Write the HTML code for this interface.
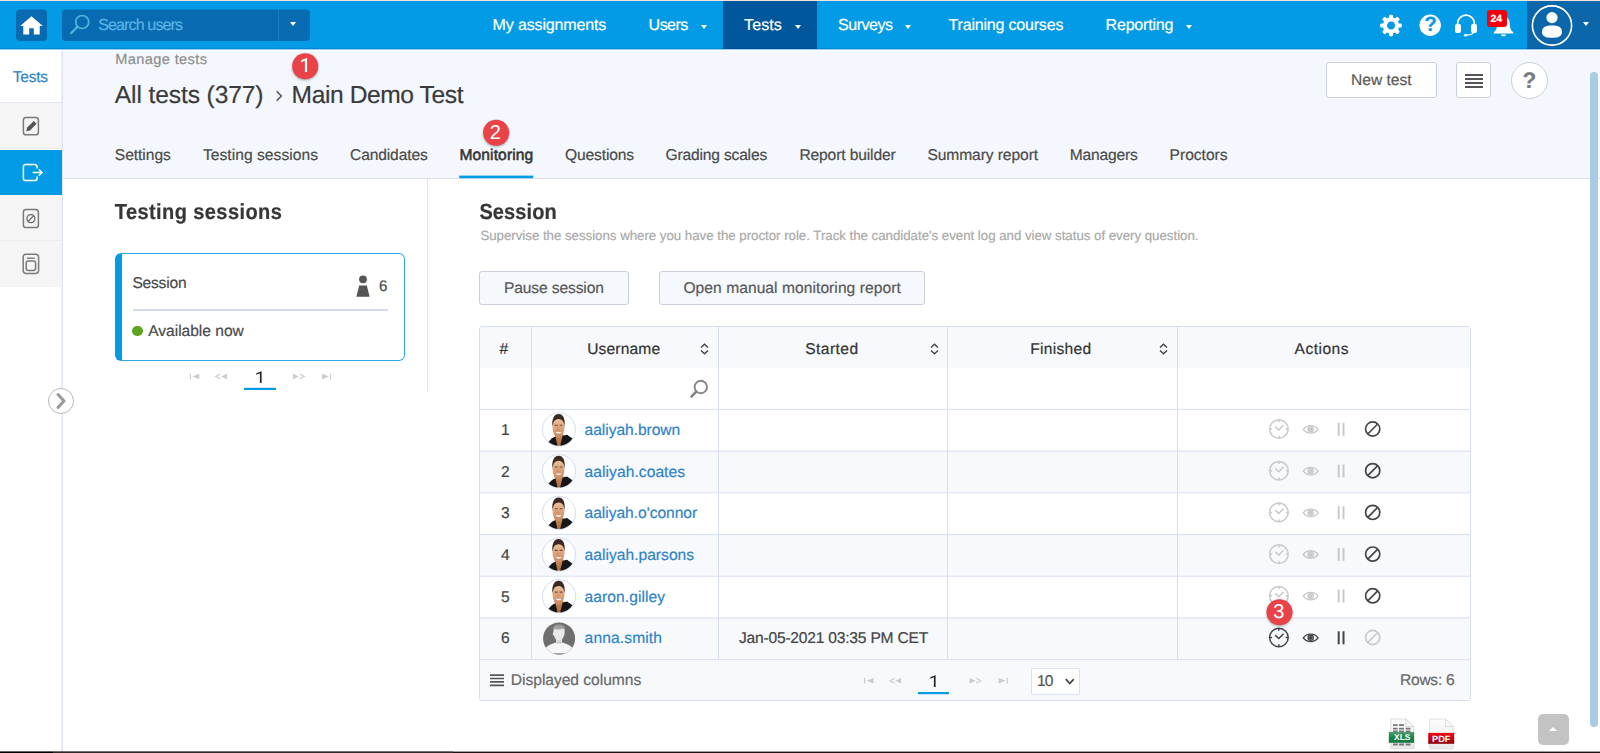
<!DOCTYPE html>
<html lang="en">
<head>
<meta charset="utf-8">
<title>Monitoring - Main Demo Test</title>
<style>
*{box-sizing:border-box;margin:0;padding:0}
html,body{width:1600px;height:753px;overflow:hidden;background:#fff}
body{font-family:"Liberation Sans",sans-serif;color:#444;position:relative;text-rendering:geometricPrecision}
.abs{position:absolute}
.t{position:absolute;white-space:nowrap;line-height:1;-webkit-text-stroke:.2px}
.med .t{-webkit-text-stroke:.55px}
svg{display:block;overflow:visible}

/* ---------- top navigation ---------- */
#nav{position:absolute;left:0;top:0;width:1600px;height:49px;background:#039be5}
#nav .t{color:#fff}
#home,#search{position:absolute;top:10px;height:31px;background:#086bb1;border-radius:4px;box-shadow:0 -1px 0 rgba(8,107,177,.5)}
#topline{position:absolute;z-index:5;left:0;top:0;width:1600px;height:1px;background:#f3e3dd}
#navedge{position:absolute;left:0;top:48px;width:1600px;height:3px;background:linear-gradient(rgba(0,25,120,.16) 0,rgba(0,25,120,.16) 1px,#8fd0f3 1px,#8fd0f3 2px,#fff 2px,#fff 3px)}
#home{left:16px;width:31px}
#search{left:62px;width:248px}
#search .sep{position:absolute;left:216px;top:0;width:1px;height:31px;background:#1a7cc0}
#nav .active{position:absolute;left:723px;top:0;width:94px;height:49px;background:#01579b}
#nav .user{position:absolute;left:1527px;top:0;width:73px;height:49px;background:#0b66aa}
.caret{position:absolute;width:0;height:0;border-left:3.8px solid transparent;border-right:3.8px solid transparent;border-top:4.2px solid #fff}
#badge24{position:absolute;left:1487px;top:10px;width:20px;height:17px;border-radius:3px;background:#f2000c}

/* ---------- sidebar ---------- */
#side{position:absolute;left:0;top:49px;width:63px;height:704px;background:#fff;border-right:1px solid #dfe5f6;box-shadow:inset -1px 0 0 #eceffa}
#side .item{position:absolute;left:0;width:61px;height:46px;background:#f5f5f5;border-bottom:1px solid #ececec}
#side .item.on{background:#039be5;border-bottom:none;width:62px}

/* ---------- page header ---------- */
#head{position:absolute;left:63px;top:49px;width:1537px;height:130px;background:#f4f8fe;border-bottom:1px solid #dfe1e6}
.tab{color:#4a4a4a}
.btn{position:absolute;background:#fff;border:1px solid #c9cfe0;border-radius:3px}
.mark{position:absolute;width:25.8px;height:25.8px;border-radius:50%;background:#e94348;box-shadow:0 1px 2.5px rgba(40,70,70,.45);color:#fff;text-align:center;font-size:20px;line-height:26px;padding-right:1.3px}

/* ---------- left panel ---------- */
#card{position:absolute;left:115px;top:253px;width:290px;height:108px;border:1px solid #2fa6ea;border-left:7px solid #039be5;border-radius:6px;background:#fff}

/* ---------- table ---------- */
#tbl{position:absolute;left:479px;top:326px;width:992px;height:375px;border:1px solid #d7ddf2;border-radius:3px;background:#fff;overflow:hidden}
#tbl .row{position:absolute;left:0;width:990px;border-top:1px solid #d7ddf2;background:#fff}
#tbl .shade{background:#f7f9fd}
#tbl .v{position:absolute;top:0;width:1px;height:333px;background:#d7ddf2}
.lnk{color:#2f83c9}
.num{color:#444}
</style>
</head>
<body>
<svg width="0" height="0" style="position:absolute">
  <defs>
    <g id="pgL" fill="#cbcbcb"><path d="M0 0h1.2v5.4H0z M9.5 0v5.4L2.7 2.7z M37.2 0v5.4L31.2 2.7z"/><path d="M30.6 .2 L26 2.7 L30.6 5.2" fill="none" stroke="#cbcbcb" stroke-width="1.1"/></g>
    <g id="pgR" fill="#cbcbcb"><path d="M0 0v5.4L6 2.7z M29 0v5.4L36 2.7z M37 0h1.2v5.4H37z"/><path d="M6.6 .2 L11.2 2.7 L6.6 5.2" fill="none" stroke="#cbcbcb" stroke-width="1.1"/></g>
    <g id="icSort"><path d="M1 4.6 L4.5 1.2 L8 4.6 M1 7.4 L4.5 10.8 L8 7.4" fill="none" stroke="#444" stroke-width="1.4"/></g>
    <g id="icClock" fill="none" stroke="currentColor" stroke-width="1.5"><circle cx="11" cy="11" r="9.3"/><path d="M11 1.8v2.4M11 17.8v2.4M1.8 11h2.4M17.8 11h2.4M7.3 8.6l3.6 3.4 4.7-4.8"/></g>
    <g id="icEye" fill="none" stroke="currentColor" stroke-width="1.35"><path d="M35.4 11.4 C39 6.4 46.6 6.4 50.2 11.4 C46.6 16.4 39 16.4 35.4 11.4 Z"/><circle cx="42.8" cy="11.3" r="2.6"/><circle cx="42.8" cy="11.3" r="1.2" fill="currentColor"/></g>
    <g id="icPause" fill="currentColor"><rect x="69.8" y="4.8" width="2" height="13"/><rect x="74.6" y="4.8" width="2" height="13"/></g>
    <g id="icBan" fill="none" stroke="currentColor" stroke-width="1.7"><circle cx="104.8" cy="11" r="7.1"/><path d="M99.8 16 L109.8 6"/></g>
    <g id="avM">
      <clipPath id="avc"><circle cx="17" cy="17" r="16.2"/></clipPath>
      <linearGradient id="skin" x1="0" y1="0" x2="0" y2="1"><stop offset="0" stop-color="#efc9a6"/><stop offset=".55" stop-color="#dca27a"/><stop offset="1" stop-color="#c98a5e"/></linearGradient>
      <linearGradient id="neck" x1="0" y1="0" x2="0" y2="1"><stop offset="0" stop-color="#c48a60"/><stop offset="1" stop-color="#b0692f"/></linearGradient>
      <filter id="soft" x="-10%" y="-10%" width="120%" height="120%"><feGaussianBlur stdDeviation=".45"/></filter>
      <circle cx="17" cy="17" r="16.6" fill="#fff" stroke="#d6ddf3" stroke-width="1"/>
      <g clip-path="url(#avc)"><g filter="url(#soft)">
        <path d="M12.6 22 L21.8 22 L18.6 35 L14.8 35 Z" fill="url(#neck)"/>
        <path d="M4.4 31.6 L10 25.8 L13.4 24 L15.9 35 L3 35 Z" fill="#131313"/>
        <path d="M20.6 23.2 L25 22.2 L31.6 26.8 L32 35 L17.7 35 Z" fill="#131313"/>
        <ellipse cx="16.5" cy="14.6" rx="6" ry="10.8" fill="url(#skin)"/>
        <path d="M10.4 14.4 C9.6 6 12.4 1.5 16.6 1.5 C21.2 1.5 23.4 6.2 22.6 14.4 C22.2 10.2 21 6.8 16.6 6.6 C12.4 6.6 11 10.2 10.4 14.4 Z" fill="#3b2a22"/>
        <path d="M12.8 12.8 h2.8 M17.6 12.8 h2.8" stroke="#6b4632" stroke-width="1.1"/>
        <path d="M16 14.4 L15.6 17.6 H17.6" fill="none" stroke="#c58a62" stroke-width=".8"/>
        <path d="M13.6 19.4 C15.2 21.6 18.2 21.6 19.6 19.4 Z" fill="#fbf3ee"/>
      </g></g>
    </g>
    <g id="avG">
      <clipPath id="avg"><circle cx="17.1" cy="17" r="16"/></clipPath>
      <linearGradient id="hair" x1="0" y1="0" x2="0" y2="1"><stop offset="0" stop-color="#8e8e8e"/><stop offset="1" stop-color="#c6c6c6"/></linearGradient>
      <circle cx="17.1" cy="17" r="16" fill="#6f6f6f"/>
      <g clip-path="url(#avg)"><g filter="url(#soft)">
        <ellipse cx="17" cy="7.2" rx="5.8" ry="4.4" fill="url(#hair)"/>
        <path d="M11.6 8.6 C13.2 6.8 14.6 8.6 16 8.4 C18.6 8 20.4 7 22.6 8.4 C23 11.6 22.4 15 20.2 17.8 C19.6 19 19.8 20.4 20.6 21.4 H13.6 C14.4 20.4 14.4 19 13.8 17.8 C12.2 15.4 11.8 13.6 10.6 12.6 C11.4 11.4 11.4 10 11.6 8.6 Z" fill="#e9e9e9"/>
        <path d="M15.4 19 H18.8 V22.4 H15.4 Z" fill="#cfcfcf"/>
        <path d="M2.6 31 C3.2 25.6 6 23.6 13.4 21.4 C15.6 22.4 18.6 22.4 20.8 21.4 C28.2 23.6 31 25.6 31.6 31 V32.2 H2.6 Z" fill="#f6f6f6"/>
        <path d="M2 32.2 H32 V35 H2 Z" fill="#8a8a8a"/>
      </g></g>
    </g>
  </defs>
</svg>

<!-- ================= NAV ================= -->
<div id="nav">
  <div id="home">
    <svg class="abs" style="left:4px;top:6px" width="23" height="19" viewBox="0 0 23 19"><path d="M11.5 0.3 L0.2 10 H3.3 V18.6 H9.2 V12.2 H13.8 V18.6 H19.7 V10 H22.8 Z" fill="#fff"/></svg>
  </div>
  <div id="search">
    <svg class="abs" style="left:8px;top:5px" width="20" height="20" viewBox="0 0.6 20 20"><circle cx="12.2" cy="7.6" r="6.5" fill="none" stroke="#4fb4dc" stroke-width="1.7"/><path d="M7.6 12.2 L1 18.8" stroke="#4fb4dc" stroke-width="2.2" stroke-linecap="round"/></svg>
    <div class="t" style="left:36.2px;top:8px;color:#5cb3e6;font-size:16px;letter-spacing:-0.855px;">Search users</div>
    <div class="sep"></div>
    <div class="caret" style="left:228px;top:12.4px"></div>
  </div>
  <div class="active"></div>
  <div id="topline"></div>
  <div class="t" style="left:492.6px;top:18px;color:#fff;font-size:16px;letter-spacing:-0.142px;">My assignments</div>
  <div class="t" style="left:648.6px;top:18px;color:#fff;font-size:16px;letter-spacing:-0.516px;">Users</div>
  <div class="caret" style="left:700.8px;top:24.8px"></div>
  <div class="t" style="left:744px;top:18px;color:#fff;font-size:16px;letter-spacing:0.131px;">Tests</div>
  <div class="caret" style="left:794.6px;top:24.8px"></div>
  <div class="t" style="left:838px;top:18px;color:#fff;font-size:16px;letter-spacing:-0.471px;">Surveys</div>
  <div class="caret" style="left:905.2px;top:24.8px"></div>
  <div class="t" style="left:948.6px;top:18px;color:#fff;font-size:16px;letter-spacing:-0.193px;">Training courses</div>
  <div class="t" style="left:1105.6px;top:18px;color:#fff;font-size:16px;letter-spacing:-0.197px;">Reporting</div>
  <div class="caret" style="left:1186px;top:24.8px"></div>
  <!-- gear -->
  <svg class="abs" style="left:1380px;top:14px" width="22" height="22" viewBox="0 -0.5 22 22">
    <g fill="#fff" transform="translate(11 11)">
      <g id="tooth"><rect x="-2" y="-10.8" width="4" height="5" rx="1.2"/></g>
      <use href="#tooth" transform="rotate(45)"/><use href="#tooth" transform="rotate(90)"/><use href="#tooth" transform="rotate(135)"/>
      <use href="#tooth" transform="rotate(180)"/><use href="#tooth" transform="rotate(225)"/><use href="#tooth" transform="rotate(270)"/><use href="#tooth" transform="rotate(315)"/>
    </g>
    <circle cx="11" cy="11" r="6.1" fill="none" stroke="#fff" stroke-width="4.2"/>
  </svg>
  <!-- help -->
  <svg class="abs" style="left:1419px;top:14px" width="23" height="23"><circle cx="11.2" cy="11.3" r="10.7" fill="#fff"/></svg>
  <div class="t" style="left:1424.2px;top:15px;color:#039be5;font-size:20.5px;font-weight:700">?</div>
  <!-- headset -->
  <svg class="abs" style="left:1454px;top:13px" width="24" height="24" viewBox="0 0 24 24">
    <path d="M3.6 13 V10.6 A8.4 8.4 0 0 1 20.4 10.6 V13" fill="none" stroke="#fff" stroke-width="1.7"/>
    <rect x="1" y="10.8" width="6" height="9.2" rx="2.6" fill="#fff"/>
    <rect x="17" y="10.8" width="6" height="9.2" rx="2.6" fill="#fff"/>
    <path d="M19.8 18.5 C19.4 21 16 22 12.6 22.2" fill="none" stroke="#fff" stroke-width="1.3"/>
    <ellipse cx="11.6" cy="22.2" rx="1.8" ry="1.2" fill="#fff"/>
  </svg>
  <!-- bell -->
  <svg class="abs" style="left:1493px;top:15px" width="21" height="23" viewBox="0 0 21 23">
    <path d="M10.5 1.4 C5.6 1.4 4.2 5.4 4.2 9.4 C4.2 13.6 2.6 15.8 0.8 17.2 V18.4 H20.2 V17.2 C18.4 15.8 16.8 13.6 16.8 9.4 C16.8 5.4 15.4 1.4 10.5 1.4 Z" fill="#fff"/>
    <path d="M7.8 19.4 A2.8 2.6 0 0 0 13.2 19.4 Z" fill="#fff"/>
  </svg>
  <div id="badge24"></div>
  <div class="t" style="left:1490.5px;top:13.5px;font-size:10.5px;font-weight:700">24</div>
  <!-- user -->
  <div class="user">
    <svg class="abs" style="left:4px;top:5px" width="42" height="42" viewBox="0 0 42 42">
      <circle cx="21" cy="20.5" r="19.6" fill="none" stroke="#fff" stroke-width="1.6"/>
      <circle cx="21" cy="12.6" r="5.6" fill="#fff"/>
      <path d="M11 27 C11 22 15 20.6 21 20.6 C27 20.6 31 22 31 27 C31 31.5 27 32.8 21 32.8 C15 32.8 11 31.5 11 27 Z" fill="#fff"/>
    </svg>
    <div class="caret" style="left:56px;top:22px"></div>
  </div>
</div>

<!-- ================= SIDEBAR ================= -->
<div id="side">
  <div class="t" style="left:12.8px;top:21px;color:#2f83c9;font-size:15.5px;letter-spacing:-0.237px;">Tests</div>
  <div class="abs" style="left:0;top:53px;width:62px;height:1px;background:#dfe5f6"></div>
  <div class="item" style="top:54px">
    <svg class="abs" style="left:22px;top:13px" width="18" height="20" viewBox="0 0 18 20"><rect x="1.4" y="1.4" width="15" height="17.4" rx="2.6" fill="none" stroke="#7a7a7a" stroke-width="1.5"/><path d="M4.2 15.2 L5.2 11.6 L11.8 5 L14.6 7.8 L8 14.4 Z" fill="#555"/></svg>
  </div>
  <div class="item on" style="top:101px;height:45px">
    <svg class="abs" style="left:22px;top:13px" width="22" height="20" viewBox="0 0 22 20"><path d="M15 5.6 V3.6 A2.2 2.2 0 0 0 12.8 1.4 H3.6 A2.2 2.2 0 0 0 1.4 3.6 V15.4 A2.2 2.2 0 0 0 3.6 17.6 H12.8 A2.2 2.2 0 0 0 15 15.4 V13.6" fill="none" stroke="#fff" stroke-width="1.5"/><path d="M10.6 9.5 H20 M16.8 6.3 L20 9.5 L16.8 12.7" fill="none" stroke="#fff" stroke-width="1.5"/></svg>
  </div>
  <div class="item" style="top:146px">
    <svg class="abs" style="left:22px;top:13px" width="18" height="21" viewBox="0 0 18 21"><rect x="1.4" y="1.4" width="15" height="18.2" rx="2.6" fill="none" stroke="#7a7a7a" stroke-width="1.5"/><circle cx="8.9" cy="10.6" r="4" fill="none" stroke="#666" stroke-width="1.3"/><path d="M6.2 13.3 L11.6 7.9" stroke="#666" stroke-width="1.3"/></svg>
  </div>
  <div class="item" style="top:192px;border-bottom:none">
    <svg class="abs" style="left:22px;top:12px" width="18" height="22" viewBox="0 0 18 22"><rect x="1.2" y="1.2" width="15.4" height="19.2" rx="2.8" fill="none" stroke="#7a7a7a" stroke-width="1.5"/><path d="M5 5.2 H12.8" stroke="#7a7a7a" stroke-width="1.4"/><rect x="4.2" y="8" width="9.4" height="9.4" rx="2.2" fill="none" stroke="#7a7a7a" stroke-width="1.5"/></svg>
  </div>
</div>

<!-- ================= HEADER ================= -->
<div id="head"></div>
<div class="t" style="left:115.2px;top:53px;color:#8e8e8e;font-size:14.6px;letter-spacing:0.381px;">Manage tests</div>
<div class="t" style="left:114.8px;top:84px;color:#3b3b3b;font-size:24.6px;letter-spacing:-0.117px;">All tests (377)</div>
<svg class="abs" style="left:275px;top:90px" width="8" height="12" viewBox="0 0 8 12"><path d="M1.6 1.2 L6.4 6 L1.6 10.8" fill="none" stroke="#555" stroke-width="1.5"/></svg>
<div class="t" style="left:291.6px;top:84px;color:#3b3b3b;font-size:24.6px;letter-spacing:-0.411px;">Main Demo Test</div>

<div class="t" style="left:114.8px;top:148px;color:#4a4a4a;font-size:15.6px;letter-spacing:-0.045px;">Settings</div>
<div class="t" style="left:203px;top:148px;color:#4a4a4a;font-size:15.6px;letter-spacing:0.036px;">Testing sessions</div>
<div class="t" style="left:350px;top:148px;color:#4a4a4a;font-size:15.6px;letter-spacing:-0.129px;">Candidates</div>
<div class="med"><div class="t" style="left:459.4px;top:148px;color:#333;font-size:15.6px;letter-spacing:0.119px;">Monitoring</div></div>
<svg class="abs" style="left:459px;top:175px" width="75" height="4"><rect x=".2" y=".6" width="74" height="2.6" fill="#039be5"/></svg>
<div class="t" style="left:565px;top:148px;color:#4a4a4a;font-size:15.6px;letter-spacing:-0.135px;">Questions</div>
<div class="t" style="left:665.6px;top:148px;color:#4a4a4a;font-size:15.6px;letter-spacing:-0.187px;">Grading scales</div>
<div class="t" style="left:799.4px;top:148px;color:#4a4a4a;font-size:15.6px;letter-spacing:-0.125px;">Report builder</div>
<div class="t" style="left:927.4px;top:148px;color:#4a4a4a;font-size:15.6px;letter-spacing:-0.085px;">Summary report</div>
<div class="t" style="left:1069.8px;top:148px;color:#4a4a4a;font-size:15.6px;letter-spacing:-0.193px;">Managers</div>
<div class="t" style="left:1169.6px;top:148px;color:#4a4a4a;font-size:15.6px;letter-spacing:-0.008px;">Proctors</div>

<div class="btn" style="left:1326px;top:62px;width:111px;height:36px"></div>
<div class="t" style="left:1351px;top:73px;color:#585858;font-size:15.6px;letter-spacing:-0.009px;">New test</div>
<div class="btn" style="left:1456px;top:62px;width:35px;height:36px">
  <svg class="abs" style="left:8px;top:11px" width="18" height="14" viewBox="0 0 18 14"><path d="M0 1h18M0 5h18M0 9h18M0 13h18" stroke="#555" stroke-width="2"/></svg>
</div>
<div class="btn" style="left:1511px;top:62px;width:37px;height:37px;border-radius:50%"></div>
<div class="t" style="left:1522.6px;top:70px;color:#7a7a7a;font-size:22.5px;font-weight:700">?</div>

<div class="mark" style="left:292px;top:53px;transform:translate(.2px,.3px)"><svg class="abs" style="left:0;top:0" width="26" height="26" viewBox="0 0 26 26"><path d="M14.9 4.7V18.8H12.7V7.5L8.9 9V7L14.5 4.7Z" fill="#fff"/></svg></div>
<div class="mark" style="left:483px;top:119px;transform:translate(.1px,.7px)">2</div>

<div id="navedge"></div>

<!-- ================= LEFT PANEL ================= -->
<div class="t" style="left:114.8px;top:203px;color:#363636;font-size:20px;font-weight:700;letter-spacing:0.413px;transform:scaleY(1.09);transform-origin:0 16px">Testing sessions</div>
<div id="card">
  <div class="t" style="left:10.4px;top:22px;color:#4a4a4a;font-size:15.6px;letter-spacing:-0.212px;">Session</div>
  <svg class="abs" style="left:233.6px;top:21px" width="14" height="22" viewBox="0 0 14 22"><circle cx="7" cy="4.3" r="3.9" fill="#555"/><path d="M3.2 10.4 H10.8 L13.6 21.8 H0.4 Z" fill="#555"/></svg>
  <div class="t" style="left:257px;top:25px;color:#4a4a4a;font-size:15.2px;letter-spacing:-0.253px;">6</div>
  <div class="abs" style="left:10.5px;top:55px;width:255px;height:2px;background:#d3daf1"></div>
  <div class="abs" style="left:10.2px;top:71.6px;width:10.6px;height:10.6px;border-radius:50%;background:#5ba51f"></div>
  <div class="t" style="left:26.2px;top:70px;color:#4a4a4a;font-size:15.6px;letter-spacing:-0.027px;">Available now</div>
</div>
<svg class="abs" style="left:189px;top:373px" width="40" height="8" viewBox="-0.8 -0.8 40 8"><use href="#pgL"/></svg>
<svg class="abs" style="left:293px;top:373px" width="40" height="8" viewBox="0 -0.8 40 8"><use href="#pgR"/></svg>
<svg class="abs" style="left:254px;top:371px" width="10" height="13" viewBox="0 0 10 13"><path d="M7.6 .2V12H5.9V2.3L2.3 3.7V2.2L7.3 .2Z" fill="#222"/></svg>
<svg class="abs" style="left:244px;top:387px" width="32" height="4"><rect x="0" y=".8" width="32" height="2.2" fill="#039be5"/></svg>
<div class="abs" style="left:427px;top:179px;width:1px;height:213px;background:#e2e2e2"></div>

<!-- sidebar collapse handle -->
<div class="abs" style="left:48px;top:388px;width:26px;height:26px;border-radius:50%;background:#fff;border:1.5px solid #b9b9b9">
  <svg class="abs" style="left:6px;top:3px" width="12" height="18" viewBox="0 0 12 18"><path d="M3 2.5 L9 9 L3 15.5" fill="none" stroke="#9a9a9a" stroke-width="3" stroke-linecap="round" stroke-linejoin="round"/></svg>
</div>

<!-- ================= SESSION ================= -->
<div class="t" style="left:479.4px;top:203px;color:#363636;font-size:20px;font-weight:700;letter-spacing:0.100px;transform:scaleY(1.09);transform-origin:0 16px">Session</div>
<div class="t" style="left:480.4px;top:229px;color:#aaaaaa;font-size:13.3px;letter-spacing:-0.030px;">Supervise the sessions where you have the proctor role. Track the candidate's event log and view status of every question.</div>
<div class="btn" style="left:479px;top:271px;width:150px;height:34px;background:#f5f8fd"></div>
<div class="t" style="left:504px;top:281px;color:#585858;font-size:15.6px;letter-spacing:-0.125px;">Pause session</div>
<div class="btn" style="left:659px;top:271px;width:266px;height:34px;background:#f5f8fd"></div>
<div class="t" style="left:683.4px;top:281px;color:#585858;font-size:15.6px;letter-spacing:0.054px;">Open manual monitoring report</div>

<div id="tbl">
  <div class="abs shade" style="left:0;top:0;width:990px;height:41px"></div>
  <div class="t" style="left:19.6px;top:15px;color:#333;font-size:15.6px;letter-spacing:-0.088px;">#</div>
  <div class="t" style="left:107.2px;top:15px;color:#333;font-size:15.6px;letter-spacing:0.133px;">Username</div>
  <div class="t" style="left:325.2px;top:15px;color:#333;font-size:15.6px;letter-spacing:0.446px;">Started</div>
  <div class="t" style="left:550.2px;top:15px;color:#333;font-size:15.6px;letter-spacing:0.281px;">Finished</div>
  <div class="t" style="left:814.6px;top:15px;color:#333;font-size:15.6px;letter-spacing:0.466px;">Actions</div>
  <svg class="abs" style="left:220px;top:16px" width="9" height="12" viewBox="0 0 9 12"><use href="#icSort"/></svg>
  <svg class="abs" style="left:450px;top:16px" width="9" height="12" viewBox="0 0 9 12"><use href="#icSort"/></svg>
  <svg class="abs" style="left:679px;top:16px" width="9" height="12" viewBox="0 0 9 12"><use href="#icSort"/></svg>
  <svg class="abs" style="left:210px;top:53px" width="19" height="19" viewBox="0 0 19 19"><circle cx="10.8" cy="7" r="6.2" fill="none" stroke="#858585" stroke-width="1.9"/><path d="M5.9 12 L1.4 16.6" stroke="#858585" stroke-width="2.6" stroke-linecap="round"/></svg>
  <div class="row" style="top:81px;height:43px;transform:translateY(0.90px)">
    <div class="t" style="left:21px;top:13px;color:#444;font-size:15.6px;letter-spacing:-0.088px;">1</div>
    <svg class="abs" style="left:62px;top:3px" width="34" height="34" viewBox="0 0.4 34 34"><use href="#avM"/></svg>
    <div class="t" style="left:104.6px;top:13px;color:#2f83c9;font-size:15.6px;letter-spacing:-0.049px;">aaliyah.brown</div>
    <svg class="abs" style="left:788px;top:8px" width="114" height="22" viewBox="0.1 -0.1 114 22"><g color="#c9c9c9"><use href="#icClock"/><use href="#icEye"/><use href="#icPause"/></g><g color="#454545"><use href="#icBan"/></g></svg>
  </div>
  <div class="row shade" style="top:123px;height:43px;transform:translateY(0.60px)">
    <div class="t" style="left:21px;top:13px;color:#444;font-size:15.6px;letter-spacing:-0.088px;">2</div>
    <svg class="abs" style="left:62px;top:3px" width="34" height="34" viewBox="0 0.4 34 34"><use href="#avM"/></svg>
    <div class="t" style="left:104.6px;top:13px;color:#2f83c9;font-size:15.6px;letter-spacing:0.057px;">aaliyah.coates</div>
    <svg class="abs" style="left:788px;top:8px" width="114" height="22" viewBox="0.1 -0.1 114 22"><g color="#c9c9c9"><use href="#icClock"/><use href="#icEye"/><use href="#icPause"/></g><g color="#454545"><use href="#icBan"/></g></svg>
  </div>
  <div class="row" style="top:165px;height:43px;transform:translateY(0.30px)">
    <div class="t" style="left:21px;top:13px;color:#444;font-size:15.6px;letter-spacing:-0.088px;">3</div>
    <svg class="abs" style="left:62px;top:3px" width="34" height="34" viewBox="0 0.4 34 34"><use href="#avM"/></svg>
    <div class="t" style="left:104.6px;top:13px;color:#2f83c9;font-size:15.6px;letter-spacing:-0.036px;">aaliyah.o'connor</div>
    <svg class="abs" style="left:788px;top:8px" width="114" height="22" viewBox="0.1 -0.1 114 22"><g color="#c9c9c9"><use href="#icClock"/><use href="#icEye"/><use href="#icPause"/></g><g color="#454545"><use href="#icBan"/></g></svg>
  </div>
  <div class="row shade" style="top:207px;height:43px;transform:translateY(0.00px)">
    <div class="t" style="left:21px;top:13px;color:#444;font-size:15.6px;letter-spacing:-0.088px;">4</div>
    <svg class="abs" style="left:62px;top:3px" width="34" height="34" viewBox="0 0.4 34 34"><use href="#avM"/></svg>
    <div class="t" style="left:104.6px;top:13px;color:#2f83c9;font-size:15.6px;letter-spacing:0.018px;">aaliyah.parsons</div>
    <svg class="abs" style="left:788px;top:8px" width="114" height="22" viewBox="0.1 -0.1 114 22"><g color="#c9c9c9"><use href="#icClock"/><use href="#icEye"/><use href="#icPause"/></g><g color="#454545"><use href="#icBan"/></g></svg>
  </div>
  <div class="row" style="top:248px;height:43px;transform:translateY(0.70px)">
    <div class="t" style="left:21px;top:13px;color:#444;font-size:15.6px;letter-spacing:-0.088px;">5</div>
    <svg class="abs" style="left:62px;top:3px" width="34" height="34" viewBox="0 0.4 34 34"><use href="#avM"/></svg>
    <div class="t" style="left:104.6px;top:13px;color:#2f83c9;font-size:15.6px;letter-spacing:0.061px;">aaron.gilley</div>
    <svg class="abs" style="left:788px;top:8px" width="114" height="22" viewBox="0.1 -0.1 114 22"><g color="#c9c9c9"><use href="#icClock"/><use href="#icEye"/><use href="#icPause"/></g><g color="#454545"><use href="#icBan"/></g></svg>
  </div>
  <div class="row shade" style="top:290px;height:43px;transform:translateY(0.40px)">
    <div class="t" style="left:21px;top:13px;color:#444;font-size:15.6px;letter-spacing:-0.088px;">6</div>
    <svg class="abs" style="left:62px;top:3px" width="34" height="34" viewBox="0 0 34 34"><use href="#avG"/></svg>
    <div class="t" style="left:104.6px;top:13px;color:#2f83c9;font-size:15.6px;letter-spacing:0.122px;">anna.smith</div>
    <svg class="abs" style="left:788px;top:8px" width="114" height="22" viewBox="0.1 -0.1 114 22"><g color="#454545"><use href="#icClock"/><use href="#icEye"/><use href="#icPause"/></g><g color="#c9c9c9"><use href="#icBan"/></g></svg>
    <div class="t" style="left:259px;top:13px;color:#444;font-size:15.6px;letter-spacing:-0.215px;">Jan-05-2021 03:35 PM CET</div>
  </div>
  <div class="row shade" style="top:332px;height:43px;transform:translateY(0.10px)">
    <svg class="abs" style="left:10px;top:14px" width="14" height="12" viewBox="0 0 14 12"><path d="M0 1h14M0 4.4h14M0 7.8h14M0 11.2h14" stroke="#555" stroke-width="1.7"/></svg>
    <div class="t" style="left:30.8px;top:13px;color:#686868;font-size:15.6px;letter-spacing:-0.028px;">Displayed columns</div>
    <svg class="abs" style="left:384px;top:17px" width="40" height="8" viewBox="0 -0.9 40 8"><use href="#pgL"/></svg>
    <svg class="abs" style="left:490px;top:17px" width="40" height="8" viewBox="0.4 -0.9 40 8"><use href="#pgR"/></svg>
    <svg class="abs" style="left:448px;top:15px" width="10" height="13" viewBox="0 0.1 10 13"><path d="M7.6 .2V12H5.9V2.3L2.3 3.7V2.2L7.3 .2Z" fill="#222"/></svg>
    <svg class="abs" style="left:438px;top:31px" width="32" height="4"><rect x="0" y=".9" width="31" height="2.2" fill="#039be5"/></svg>
    <div class="abs" style="left:551px;top:8px;width:49px;height:27px;border:1px solid #dce2f3;background:#fff;border-radius:1px">
      <div class="t" style="left:5px;top:5px;color:#555;font-size:15.6px;letter-spacing:-0.880px;">10</div>
      <svg class="abs" style="left:33px;top:9px" width="10" height="7" viewBox="0.2 0 10 7"><path d="M1 1 L5 5.4 L9 1" fill="none" stroke="#444" stroke-width="1.7"/></svg>
    </div>
    <div class="t" style="left:920px;top:13px;color:#686868;font-size:15.6px;letter-spacing:-0.278px;">Rows: 6</div>
  </div>
  <div class="v" style="left:51px"></div>
  <div class="v" style="left:238px"></div>
  <div class="v" style="left:467px"></div>
  <div class="v" style="left:697px"></div>
</div>

<div class="mark" style="left:1266px;top:599px;transform:translate(.5px,.2px)">3</div>

<!-- export icons -->
<svg class="abs" style="left:1388px;top:718px" width="27" height="32" viewBox="0 0 27 32">
  <defs><linearGradient id="gx" x1="0" y1="0" x2="0" y2="1"><stop offset="0" stop-color="#4c9e6c"/><stop offset=".5" stop-color="#1f8449"/><stop offset="1" stop-color="#0f7a3e"/></linearGradient>
  <linearGradient id="gp" x1="0" y1="0" x2="0" y2="1"><stop offset="0" stop-color="#ee0a12"/><stop offset=".5" stop-color="#c70510"/><stop offset="1" stop-color="#8e0006"/></linearGradient>
  <linearGradient id="gpage" x1="0" y1="0" x2="0" y2="1"><stop offset="0" stop-color="#fdfdfd"/><stop offset="1" stop-color="#e9e9e9"/></linearGradient></defs>
  <path d="M2.8 1 H18 L25.8 8.6 V30.6 H2.8 Z" fill="url(#gpage)" stroke="#d4d4d4" stroke-width=".8"/>
  <path d="M18 1 V8.6 H25.8 Z" fill="#fafafa" stroke="#c9c9c9" stroke-width=".7"/>
  <path d="M5 6.2h4.7v1.9H5zM11 6.2h5v1.9h-5zM5 9.7h4.7v1.9H5zM11 9.7h5v1.9h-5zM17.7 9.7h4.8v1.9h-4.8zM5 12.4h4.7v1.6H5zM11 12.4h5v1.6h-5zM17.7 12.4h4.8v1.6h-4.8z" fill="#777"/>
  <rect x=".8" y="14" width="25.3" height="10.8" fill="url(#gx)"/>
  <path d="M5 25.6h4.7v1.9H5zM11 25.6h5v1.9h-5zM17.7 25.6h4.8v1.9h-4.8z" fill="#777"/>
  <text x="14.2" y="22.3" text-anchor="middle" font-family="Liberation Sans, sans-serif" font-size="8.4" font-weight="700" fill="#fff">XLS</text>
</svg>
<svg class="abs" style="left:1427px;top:718px" width="28" height="32" viewBox="0 0 28 32">
  <path d="M2.6 1 H18.6 L26.2 8.6 V31 H2.6 Z" fill="url(#gpage)" stroke="#dadada" stroke-width=".8"/>
  <path d="M18.6 1 V8.6 H26.2 Z" fill="#fafafa" stroke="#cfcfcf" stroke-width=".7"/>
  <rect x="1.2" y="14.9" width="26" height="10.9" fill="url(#gp)"/>
  <text x="14.3" y="23.8" text-anchor="middle" font-family="Liberation Sans, sans-serif" font-size="9.2" font-weight="700" fill="#fff">PDF</text>
</svg>
<!-- scroll to top -->
<div class="abs" style="left:1538px;top:714px;width:31px;height:31px;border-radius:5px;background:#c3c3c3">
  <div class="abs" style="left:11px;top:13px;width:0;height:0;border-left:4.5px solid transparent;border-right:4.5px solid transparent;border-bottom:4.5px solid #fff"></div>
</div>
<svg class="abs" style="left:0;top:751px" width="1600" height="2"><rect x="0" y=".6" width="1600" height="1.4" fill="#1a1210"/><rect x="0" y=".6" width="53" height="1.4" fill="#000"/><rect x="53" y=".6" width="400" height="1.4" fill="#2e2826"/></svg>

<!-- page scrollbar -->
<div class="abs" style="left:1590px;top:72px;width:8px;height:655px;border-radius:4px;background:#a9cce3"></div>


</body>
</html>
